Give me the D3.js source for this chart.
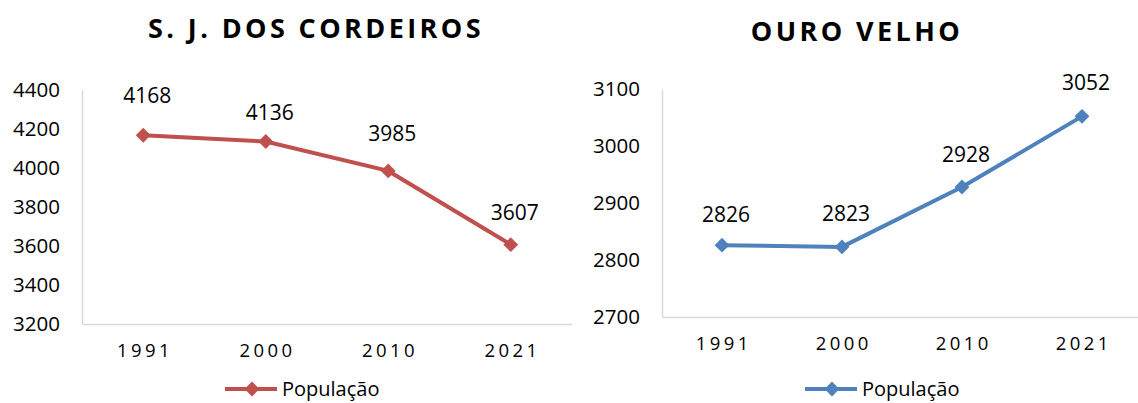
<!DOCTYPE html>
<html>
<head>
<meta charset="utf-8">
<script src="https://cdn.jsdelivr.net/npm/d3@7"></script>
<style>
  body { margin: 0; background: #fff; }
  text { font-family: "Open Sans", sans-serif; fill: #000; }
</style>
</head>
<body>
<div id="chart"></div>
<script>
// data
var years = ["1991", "2000", "2010", "2021"];
var cordeirosPop = [4168, 4136, 3985, 3607];
var ouroVelhoPop = [2826, 2823, 2928, 3052];
var cordeirosTicks = [3200, 3400, 3600, 3800, 4000, 4200, 4400];
var ouroVelhoTicks = [2700, 2800, 2900, 3000, 3100];
var seriesName = "População";

var width = 1138, height = 403;

var svg = d3.select("#chart")
    .append("svg")
    .attr("width", width)
    .attr("height", height);

function drawChart(opts) {
    var g = svg.append("g");

    var x = d3.scaleBand()
        .domain(years)
        .range([opts.left, opts.right]);

    var y = d3.scaleLinear()
        .domain(opts.domain)
        .range([opts.bottom, opts.top]);

    // title
    g.append("text")
        .attr("x", opts.titleX)
        .attr("y", opts.titleY)
        .attr("text-anchor", "middle")
        .style("font-weight", "bold")
        .style("font-size", "27px")
        .style("letter-spacing", "3.4px")
        .text(opts.title);

    // y axis
    var yAxis = d3.axisLeft(y)
        .tickValues(opts.ticks)
        .tickFormat(d3.format("d"))
        .tickSize(0)
        .tickPadding(22);
    var ya = g.append("g")
        .attr("transform", "translate(" + opts.left + ",0)")
        .call(yAxis);
    ya.select(".domain").attr("stroke", "#d9d9d9").attr("stroke-width", 1.5);
    ya.selectAll(".tick text")
        .style("font-size", "20.5px")
        .style("font-family", "Open Sans, sans-serif")
        .attr("fill", "#000");

    // x axis
    var xAxis = d3.axisBottom(x).tickSize(0).tickPadding(opts.xPad);
    var xa = g.append("g")
        .attr("transform", "translate(0," + opts.bottom + ")")
        .call(xAxis);
    xa.select(".domain").attr("stroke", "#d9d9d9").attr("stroke-width", 1.5);
    xa.selectAll(".tick text")
        .style("font-size", "18.5px")
        .style("letter-spacing", "3.4px")
        .style("font-family", "Open Sans, sans-serif")
        .attr("dx", "1.7px")
        .attr("fill", "#000");

    var pts = years.map(function (d, i) {
        return {year: d, value: opts.values[i], i: i};
    });

    var line = d3.line()
        .x(function (d) { return x(d.year) + x.bandwidth() / 2; })
        .y(function (d) { return y(d.value); });

    g.append("path")
        .datum(pts)
        .attr("d", line)
        .attr("fill", "none")
        .attr("stroke", opts.color)
        .attr("stroke-width", 4);

    var diamond = d3.symbol().type(d3.symbolSquare).size(110);
    g.selectAll(".marker")
        .data(pts)
        .enter().append("path")
        .attr("class", "marker")
        .attr("d", diamond)
        .attr("transform", function (d) {
            return "translate(" + (x(d.year) + x.bandwidth() / 2) + "," + y(d.value) + ") rotate(45)";
        })
        .attr("fill", opts.color);

    g.selectAll(".label")
        .data(pts)
        .enter().append("text")
        .attr("class", "label")
        .attr("x", function (d) { return x(d.year) + x.bandwidth() / 2 + 4; })
        .attr("y", function (d) { return y(d.value) - opts.lift[d.i]; })
        .attr("dy", "0.35em")
        .attr("text-anchor", "middle")
        .style("font-size", "21px")
        .text(function (d) { return d.value; });

    // legend
    var lg = g.append("g").attr("transform", "translate(" + opts.legendX + "," + opts.legendY + ")");
    lg.append("line")
        .attr("x1", 0).attr("x2", 52)
        .attr("stroke", opts.color)
        .attr("stroke-width", 4);
    lg.append("path")
        .attr("d", diamond)
        .attr("transform", "translate(27,0) rotate(45)")
        .attr("fill", opts.color);
    lg.append("text")
        .attr("x", 57)
        .attr("dy", "0.35em")
        .style("font-size", "20px")
        .text(seriesName);
}

drawChart({
    title: "S. J. DOS CORDEIROS",
    titleX: 316, titleY: 38,
    values: cordeirosPop,
    ticks: cordeirosTicks,
    domain: [3200, 4400],
    left: 82, right: 572, top: 90, bottom: 324,
    xPad: 20,
    lift: [40, 29, 37, 32],
    color: "#c0504d",
    legendX: 225, legendY: 389
});

drawChart({
    title: "OURO VELHO",
    titleX: 857, titleY: 41,
    values: ouroVelhoPop,
    ticks: ouroVelhoTicks,
    domain: [2700, 3100],
    left: 662, right: 1142, top: 89, bottom: 317,
    xPad: 20,
    lift: [31, 33, 32, 34],
    color: "#4f81bd",
    legendX: 805, legendY: 389
});
</script>
</body>
</html>
